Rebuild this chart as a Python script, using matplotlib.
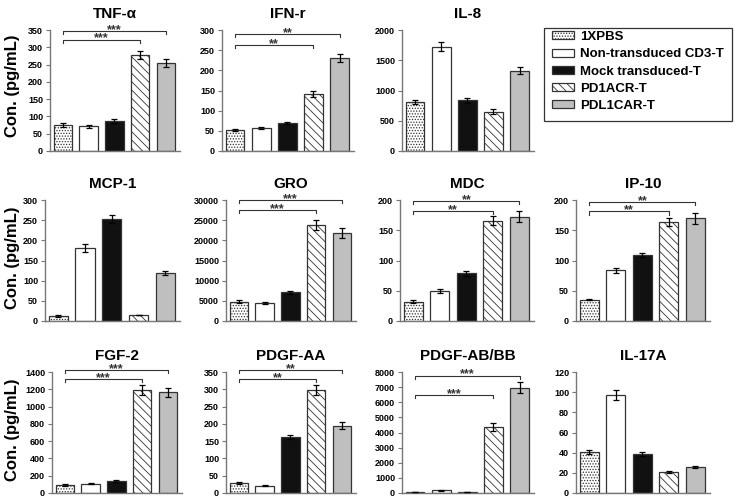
import matplotlib
matplotlib.use("Agg")
import matplotlib.pyplot as plt
from matplotlib.patches import Patch, Rectangle

plt.rcParams["font.family"] = ["Liberation Sans", "DejaVu Sans"]
plt.rcParams["font.weight"] = "bold"
plt.rcParams["hatch.linewidth"] = 0.6

# ---------------------------------------------------------------------------
# Data
# ---------------------------------------------------------------------------
groups = ["1XPBS", "Non-transduced CD3-T", "Mock transduced-T",
          "PD1ACR-T", "PDL1CAR-T"]

panels = ["TNF-α", "IFN-r", "IL-8",
          "MCP-1", "GRO", "MDC", "IP-10",
          "FGF-2", "PDGF-AA", "PDGF-AB/BB", "IL-17A"]

means = {
    "TNF-α":      [75, 71, 87, 278, 255],
    "IFN-r":      [52, 57, 70, 141, 230],
    "IL-8":       [810, 1725, 835, 650, 1330],
    "MCP-1":      [13, 180, 254, 15, 119],
    "GRO":        [4800, 4500, 7100, 23800, 21800],
    "MDC":        [32, 50, 79, 166, 172],
    "IP-10":      [35, 84, 109, 164, 170],
    "FGF-2":      [95, 108, 140, 1190, 1165],
    "PDGF-AA":    [30, 21, 162, 298, 195],
    "PDGF-AB/BB": [60, 180, 60, 4350, 6970],
    "IL-17A":     [41, 97, 39, 21, 26],
}
errs = {
    "TNF-α":      [5, 4, 5, 12, 12],
    "IFN-r":      [2, 2, 2, 7, 10],
    "IL-8":       [40, 80, 45, 45, 60],
    "MCP-1":      [2, 10, 10, 1, 6],
    "GRO":        [300, 300, 400, 1200, 1200],
    "MDC":        [2, 3, 4, 8, 9],
    "IP-10":      [1, 4, 4, 7, 9],
    "FGF-2":      [10, 8, 10, 60, 55],
    "PDGF-AA":    [3, 2, 7, 15, 9],
    "PDGF-AB/BB": [10, 20, 10, 250, 350],
    "IL-17A":     [2, 5, 2, 1, 1],
}
ymax = {"TNF-α": 350, "IFN-r": 300, "IL-8": 2000, "MCP-1": 300,
        "GRO": 30000, "MDC": 200, "IP-10": 200, "FGF-2": 1400,
        "PDGF-AA": 350, "PDGF-AB/BB": 8000, "IL-17A": 120}
ystep = {"TNF-α": 50, "IFN-r": 50, "IL-8": 500, "MCP-1": 50,
         "GRO": 5000, "MDC": 50, "IP-10": 50, "FGF-2": 200,
         "PDGF-AA": 50, "PDGF-AB/BB": 1000, "IL-17A": 20}

# significance brackets: (target bar, bracket height, label), all from bar 0
brackets = {
    "TNF-α":      [(3, 322, "***"), (4, 346, "***")],
    "IFN-r":      [(3, 262, "**"), (4, 290, "**")],
    "GRO":        [(3, 27500, "***"), (4, 30000, "***")],
    "MDC":        [(3, 182, "**"), (4, 198, "**")],
    "IP-10":      [(3, 181, "**"), (4, 197, "**")],
    "FGF-2":      [(3, 1320, "***"), (4, 1420, "***")],
    "PDGF-AA":    [(3, 330, "**"), (4, 356, "**")],
    "PDGF-AB/BB": [(3, 6450, "***"), (4, 7750, "***")],
}

# ---------------------------------------------------------------------------
# Styles
# ---------------------------------------------------------------------------
faces = ["white", "white", "#111111", "white", "#bfbfbf"]
hatches = ["......", None, None, "\\\\\\\\", None]
edge = "#333333"

W, H = 740, 499
fig = plt.figure(figsize=(W / 100, H / 100), dpi=100)

# axes boxes in pixels: (left, top, width, height)
boxes = {
    "TNF-α":      (50, 30, 130, 121),
    "IFN-r":      (222, 30, 132, 121),
    "IL-8":       (402, 30, 132, 121),
    "MCP-1":      (45, 200, 135, 121),
    "GRO":        (226, 200, 130, 121),
    "MDC":        (400, 200, 134, 121),
    "IP-10":      (576, 200, 134, 121),
    "FGF-2":      (52, 372, 130, 121),
    "PDGF-AA":    (226, 372, 130, 121),
    "PDGF-AB/BB": (402, 372, 132, 121),
    "IL-17A":     (576, 372, 134, 121),
}

x = list(range(5))
for name in panels:
    l, t, w, h = boxes[name]
    ax = fig.add_axes([l / W, 1 - (t + h) / H, w / W, h / H])
    for i in x:
        ax.bar(i, means[name][i], width=0.72, color=faces[i],
               edgecolor=edge, linewidth=0.9, hatch=hatches[i], zorder=2)
        ax.errorbar(i, means[name][i], yerr=errs[name][i], fmt="none",
                    ecolor="black", elinewidth=0.9, capsize=2.5,
                    capthick=0.9, zorder=3)
    ax.set_xlim(-0.5, 4.55)
    ax.set_ylim(0, ymax[name])
    ax.set_yticks(range(0, ymax[name] + 1, ystep[name]))
    ax.set_xticks([])
    for s in ("top", "right"):
        ax.spines[s].set_visible(False)
    for s in ("left", "bottom"):
        ax.spines[s].set_color("#777777")
        ax.spines[s].set_linewidth(1.0)
    ax.tick_params(axis="y", labelsize=6.5, length=3, width=0.8,
                   color="#777777", pad=2)
    for lab in ax.get_yticklabels():
        lab.set_fontweight("bold")
    ax.set_title(name, fontsize=11, fontweight="bold", pad=9)

    tick = ymax[name] * 0.025
    for end, yb, label in brackets.get(name, []):
        ax.plot([0, 0, end, end], [yb - tick, yb, yb, yb - tick],
                color="#333333", lw=0.8, clip_on=False, zorder=4)
        ax.annotate(label, (end / 2, yb), xytext=(0, -3.5),
                    textcoords="offset points", ha="center", va="bottom",
                    fontsize=9, fontweight="bold", color="#333333",
                    annotation_clip=False)

# y-axis label, one per row
for yc in (86, 258, 430):
    fig.text(13 / W, 1 - yc / H, "Con. (pg/mL)", rotation=90,
             ha="center", va="center", fontsize=12, fontweight="bold")

# legend: frame drawn separately so its padding matches the original
fig.patches.append(Rectangle((544 / W, 1 - 121 / H), 188 / W, 93 / H,
                             transform=fig.transFigure, facecolor="white",
                             edgecolor="#333333", linewidth=0.9))
handles = [Patch(facecolor=faces[i], edgecolor=edge, hatch=hatches[i],
                 linewidth=0.9) for i in x]
fig.legend(handles, groups, loc="upper left",
           bbox_to_anchor=(552 / W, 1 - 31 / H), borderaxespad=0,
           frameon=False, prop={"weight": "bold", "size": 9.5},
           handlelength=1.7, handleheight=0.55, labelspacing=0.4,
           borderpad=0.0, handletextpad=0.4)

plt.savefig("out.png", dpi=100)
